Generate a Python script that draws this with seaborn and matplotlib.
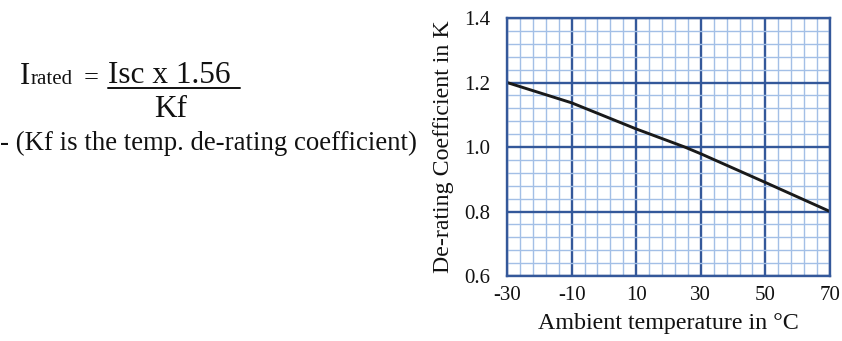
import matplotlib
matplotlib.use("Agg")
import matplotlib.pyplot as plt
import seaborn as sns
import pandas as pd
import numpy as np
from matplotlib.lines import Line2D

# ---- data ----
temps = [-30, -10, 10, 25, 30, 50, 70]
k_values = [1.20, 1.137, 1.056, 1.00, 0.979, 0.89, 0.80]
x_ticks = [-30, -10, 10, 30, 50, 70]
y_ticks = [0.6, 0.8, 1.0, 1.2, 1.4]
x_label = "Ambient temperature in °C"
y_label = "De-rating Coefficient in K"

sns.set_theme(style="white")
plt.rcParams['font.family'] = ['Liberation Serif', 'DejaVu Serif']

W, H = 842, 341
fig = plt.figure(figsize=(W / 100, H / 100), dpi=100)
fig.patch.set_facecolor("white")

def fx(px):
    return px / W

def fy(py):
    return 1 - py / H

ax = fig.add_axes([fx(507), fy(276), fx(830) - fx(507), fy(18) - fy(276)])

df = pd.DataFrame({"temp": temps, "k": k_values})
sns.lineplot(data=df, x="temp", y="k", ax=ax, color="#1a1a1a", linewidth=2.1)

ax.set_xlim(-30, 70)
ax.set_ylim(0.6, 1.4)
ax.set_xticks(x_ticks)
ax.set_yticks(y_ticks)
ax.set_xticklabels([str(t) for t in x_ticks])
ax.set_yticklabels([f"{t:.1f}" for t in y_ticks])
ax.set_xticks(np.arange(-30, 71, 4), minor=True)
ax.set_yticks(np.arange(0.6, 1.401, 0.04), minor=True)

ax.grid(which="minor", color="#a3bfe6", linewidth=1.0)
ax.grid(which="major", color="#34589a", linewidth=1.7)
ax.set_axisbelow(True)
for s in ax.spines.values():
    s.set_color("#34589a")
    s.set_linewidth(1.7)

ax.tick_params(which="both", length=0)
ax.tick_params(axis="x", labelsize=15, pad=7, colors="#111111")
ax.tick_params(axis="y", labelsize=15, pad=12, colors="#111111")
ax.set_xlabel(x_label, fontsize=17.3, color="#111111", labelpad=6)
ax.set_ylabel(y_label, fontsize=17.2, color="#111111", labelpad=7)

# ---- formula text on the left ----
tc = "#111111"
fig.text(fx(20), fy(84), "I", fontsize=22, color=tc, ha="left", va="baseline")
fig.text(fx(31), fy(84), "rated", fontsize=15, color=tc, ha="left", va="baseline")
fig.text(fx(84), fy(84), "=", fontsize=19, color=tc, ha="left", va="baseline")
fig.text(fx(108), fy(83), "Isc x 1.56", fontsize=22.5, color=tc, ha="left", va="baseline")
fig.add_artist(Line2D([fx(108), fx(240)], [fy(87.5), fy(87.5)], color=tc,
                      linewidth=1.4, transform=fig.transFigure))
fig.text(fx(171), fy(117), "Kf", fontsize=22.5, color=tc, ha="center", va="baseline")
fig.text(fx(0), fy(150), "- (Kf is the temp. de-rating coefficient)", fontsize=19.3,
         color=tc, ha="left", va="baseline")

fig.savefig("out.png", dpi=100, facecolor="white")
